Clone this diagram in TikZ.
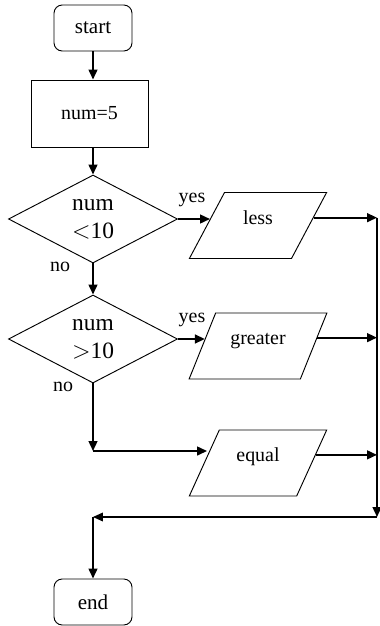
\documentclass[tikz,border=0pt]{standalone}
\usepackage{fontspec}
\setmainfont{Liberation Serif}
\usetikzlibrary{shapes.geometric,arrows.meta}

\begin{document}
\begin{tikzpicture}[->,>={Triangle[length=8.5pt,width=7.5pt]},line width=1.6pt]
		\tikzstyle{term} = [rectangle,rounded corners=7pt,draw,line width=0.8pt,minimum width=2.34cm,minimum height=1.38cm,font=\fontsize{18}{22}\selectfont]
		\tikzstyle{proc} = [rectangle,draw,line width=0.8pt,minimum width=3.51cm,minimum height=2.01cm,font=\fontsize{17}{21}\selectfont]
		\tikzstyle{cond} = [diamond,draw,line width=0.8pt,inner sep=0pt,minimum width=5.07cm,minimum height=2.64cm,align=center,font=\fontsize{20}{24}\selectfont]
		\tikzstyle{io}   = [trapezium,trapezium left angle=62,trapezium right angle=118,trapezium stretches=true,draw,line width=0.8pt,minimum width=4.14cm,minimum height=1.98cm,text height=0.4cm,text depth=0.48cm,font=\fontsize{17}{21}\selectfont]
		\tikzstyle{lbl}  = [font=\fontsize{17}{20}\selectfont]
		
		\useasboundingbox (0,0) rectangle (11.4,-18.78);
		
		\node[term] (start) at (2.79,-0.84)  {start};
		\node[proc] (box)   at (2.685,-3.405){num=5};
		\node[cond] (less)  at (2.79,-6.57)  {num\\$<$10};
		\node[cond] (more)  at (2.79,-10.17) {num\\$>$10};
		\node[io]   (out1)  at (7.74,-6.765) {less};
		\node[io]   (out2)  at (7.74,-10.38) {greater};
		\node[io]   (out3)  at (7.74,-13.89) {equal};
		\node[term] (end)   at (2.79,-18.06) {end};
		
		\node[lbl] (yes1) at (5.76,-6.0)  {yes};
		\node[lbl] (yes2) at (5.76,-9.6)  {yes};
		\node[lbl] (no1)  at (1.8,-8.01)  {no};
		\node[lbl] (no2)  at (1.89,-11.61){no};
		
		\coordinate (nocorner) at (2.79,-13.53);
		\coordinate (railbot)  at (11.31,-15.51);
		\coordinate (merge)    at (2.79,-15.51);
		
		\path (start.south)       edge (start.south |- box.north);
		\path (box.south -| less.north) edge (less.north);
		\path (less.east)         edge (less.east -| out1.172);
		\path (less.south)        edge (more.north);
		\path (more.east)         edge (more.east -| out2.172);
		\path (more.south)        edge (nocorner);
		\path (nocorner)          edge (nocorner -| out3.172);
		
		\path (out1.8) edge (out1.8 -| railbot);
		\path (out2.8) edge (out2.8 -| railbot);
		\path (out3.8) edge (out3.8 -| railbot);
		\path (out1.8 -| railbot) edge (railbot);
		\path[line width=0.9pt] (railbot) edge (merge);
		\path (merge) edge (end.north);
	\end{tikzpicture}
\end{document}
